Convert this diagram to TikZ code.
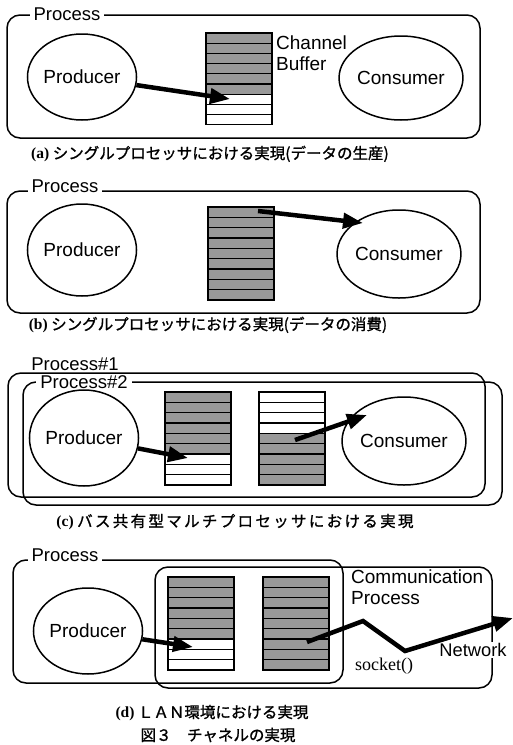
\documentclass[tikz,border=0pt]{standalone}
\usepackage{fontspec}
\setmainfont{Liberation Sans}
\newfontfamily\jp[FakeBold=1.2]{Noto Sans CJK JP}
\newfontfamily\serifface{Liberation Serif}
\usetikzlibrary{arrows.meta,shapes.geometric}
\definecolor{shade}{gray}{0.6}
\tikzset{
 frame/.style={draw, line width=1.5pt, rounded corners=13pt},
 plabel/.style={fill=white, inner ysep=1.5pt, inner xsep=4pt, font=\fontsize{18.5}{20}\selectfont},
 proc/.style={draw, ellipse, line width=1.5pt, inner sep=0pt, font=\fontsize{19}{21}\selectfont},
 bufrow/.style={draw, line width=1.3pt},
 flow/.style={line width=4.5pt, -{Triangle[length=20pt,width=15pt]}},
 capt/.style={font=\jp\fontsize{15.5}{17}\selectfont, inner sep=0pt},
 lbl/.style={font=\fontsize{19}{21}\selectfont, inner sep=0pt, align=left},
}
\newcommand\drawbuf[4]{\foreach \c [count=\i from 0] in {#4} {\draw[bufrow, fill=\c] (#1,{#2+\i*#3}) rectangle ++(66,#3);}}
\newcommand\capa[1]{{\serifface\bfseries #1}}
\begin{document}
\begin{tikzpicture}[x=1pt,y=-1pt]
\useasboundingbox (0,0) rectangle (512,745);
\clip (0,0) rectangle (512,745);
% ---------------- (a)
\draw[frame] (7,15) rectangle (480,138);
\node[plabel] (la) at (67,14) {Process};
\node[proc, minimum width=99pt, minimum height=86pt] (pa) at (82,77) {Producer};
\node[proc, minimum width=108pt, minimum height=84pt] (ca) at (401,78) {Consumer};
\drawbuf{206}{33}{10.2}{shade,shade,shade,shade,shade,shade,white,white,white}
\node[lbl, anchor=west] (cbuf) at (276,53) {Channel\\Buffer};
\coordinate (ta) at (230,99);
\draw[flow] (pa) -- (ta);
\node[capt] (capA) at (210,154) {\capa{(a)} シングルプロセッサにおける実現(データの生産)};
% ---------------- (b)
\draw[frame] (7,191) rectangle (480,313);
\node[plabel] (lb) at (65,186) {Process};
\node[proc, minimum width=98pt, minimum height=92pt] (pb) at (82,250) {Producer};
\node[proc, minimum width=112pt, minimum height=88pt] (cb) at (399,254) {Consumer};
\drawbuf{208}{207}{10.33}{shade,shade,shade,shade,shade,shade,shade,shade,shade}
\coordinate (sb) at (258,211);
\coordinate (tb) at (363,223);
\draw[flow] (sb) -- (tb);
\node[capt] (capB) at (208,325) {\capa{(b)} シングルプロセッサにおける実現(データの消費)};
% ---------------- (c)
\draw[frame] (8,373) rectangle (485,497);
\draw[frame] (23,382) rectangle (502,505);
\node[plabel] (lc1) at (75,364) {Process\#1};
\node[plabel] (lc2) at (84,382) {Process\#2};
\node[proc, minimum width=98pt, minimum height=96pt] (pc) at (84,438) {Producer};
\node[proc, minimum width=102pt, minimum height=88pt] (cc) at (404,441) {Consumer};
\drawbuf{165}{392}{10.33}{shade,shade,shade,shade,shade,shade,white,white,white}
\drawbuf{259}{392}{10.33}{white,white,white,white,shade,shade,shade,shade,shade}
\coordinate (tc1) at (188,458);
\coordinate (sc2) at (295,440);
\coordinate (tc2) at (367,415);
\draw[flow] (pc) -- (tc1);
\draw[flow] (sc2) -- (tc2);
\node[capt] (capC) at (235,522) {\capa{(c)} \addfontfeature{LetterSpace=15}バス共有型マルチプロセッサにおける実現};
% ---------------- (d)
\draw[frame] (13,560) rectangle (343,683);
\draw[frame] (155,567) rectangle (492,688);
\node[plabel] (ld) at (65,555) {Process};
\node[proc, minimum width=96pt, minimum height=86pt] (pd) at (88,631) {Producer};
\drawbuf{168}{577}{10.33}{shade,shade,shade,shade,shade,shade,white,white,white}
\drawbuf{263}{577}{10.33}{shade,shade,shade,shade,shade,shade,shade,shade,shade}
\node[lbl, anchor=west, font=\fontsize{19}{21}\selectfont] (comm) at (351,587) {Communication\\Process};
\node[font=\serifface\fontsize{18}{21}\selectfont, inner sep=0pt] (sock) at (384,666) {socket()};
\node[fill=white, inner sep=1pt, font=\fontsize{18.3}{20}\selectfont] (net) at (473,650) {Network};
\coordinate (td) at (193,647);
\coordinate (sn) at (307,642);
\coordinate (n1) at (363,621);
\coordinate (n2) at (405,651);
\coordinate (tn) at (513,618);
\draw[flow] (pd) -- (td);
\draw[flow, line join=miter] (sn) -- (n1) -- (n2) -- (tn);
\node[capt] (capD) at (212,713) {\capa{(d)} ＬＡＮ環境における実現};
\node[capt] (fig) at (218,735) {図３　チャネルの実現};
\end{tikzpicture}
\end{document}
